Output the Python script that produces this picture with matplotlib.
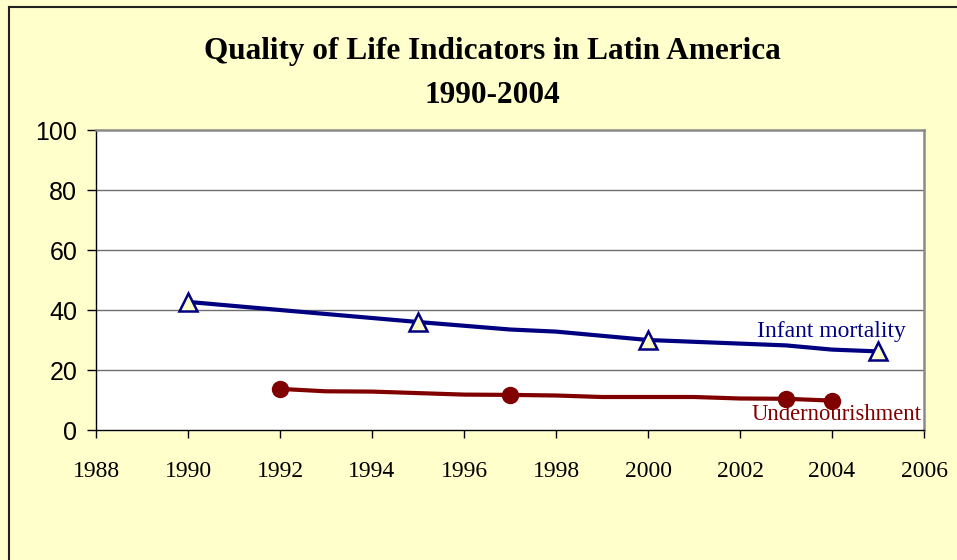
import matplotlib
matplotlib.use("Agg")
import matplotlib.pyplot as plt
from matplotlib.lines import Line2D

# Data
im_years = [1990, 1992, 1995, 1997, 1998, 2000, 2003, 2004, 2005]
im_values = [42.7, 40.0, 36.0, 33.5, 32.8, 30.0, 28.2, 26.8, 26.2]
im_marker_years = [1990, 1995, 2000, 2005]

un_years = [1992, 1993, 1994, 1995, 1996, 1997, 1998, 1999, 2000, 2001, 2002, 2003, 2004]
un_values = [13.7, 12.9, 12.8, 12.3, 11.8, 11.7, 11.5, 11.0, 11.0, 11.0, 10.5, 10.4, 9.8]
un_marker_years = [1992, 1997, 2003, 2004]

x_ticks = [1988, 1990, 1992, 1994, 1996, 1998, 2000, 2002, 2004, 2006]
y_ticks = [0, 20, 40, 60, 80, 100]

title_line1 = "Quality of Life Indicators in Latin America"
title_line2 = "1990-2004"

BG = "#FFFFCC"
NAVY = "#000080"
DRED = "#800000"

fig = plt.figure(figsize=(9.57, 5.6), dpi=100, facecolor=BG)
W, H = 957, 560
ax = fig.add_axes([96 / W, 1 - 430 / H, (924 - 96) / W, 300 / H])
ax.set_facecolor("white")

ax.set_xlim(1988, 2006)
ax.set_ylim(0, 100)
ax.set_xticks(x_ticks)
ax.set_yticks(y_ticks)
ax.set_xticklabels([str(t) for t in x_ticks], family="Liberation Serif", fontsize=17)
ax.set_yticklabels([str(t) for t in y_ticks], family="Liberation Sans", fontsize=18)
ax.tick_params(axis="x", direction="out", length=6, width=1, color="black", pad=16)
ax.tick_params(axis="y", direction="out", length=6.5, width=1, color="black", pad=7)

for y in y_ticks[1:-1]:
    ax.axhline(y, color="#6e6e6e", lw=1.0, zorder=1)

ax.spines["left"].set_color("black")
ax.spines["bottom"].set_color("black")
ax.spines["top"].set_color("#8a8a8a")
ax.spines["right"].set_color("#8a8a8a")
for s in ["top", "right"]:
    ax.spines[s].set_linewidth(1.8)
ax.spines["left"].set_linewidth(1.0)
ax.spines["bottom"].set_linewidth(1.0)

im_idx = [im_years.index(y) for y in im_marker_years]
un_idx = [un_years.index(y) for y in un_marker_years]

ax.plot(im_years, im_values, color=NAVY, lw=3.0, marker="^", markersize=13,
        markerfacecolor=BG, markeredgecolor=NAVY, markeredgewidth=1.8,
        markevery=im_idx, zorder=3, clip_on=False)
ax.plot(un_years, un_values, color=DRED, lw=3.0, marker="o", markersize=11.5,
        markerfacecolor=DRED, markeredgecolor=DRED,
        markevery=un_idx, zorder=3, clip_on=False)

ax.text(2005.6, 33.0, "Infant mortality", color=NAVY, family="Liberation Serif",
        fontsize=17, ha="right", va="center")
ax.text(2005.95, 5.0, "Undernourishment", color=DRED, family="Liberation Serif",
        fontsize=16.3, ha="right", va="center")

fig.text(492 / W, 1 - 52 / H, title_line1, family="Liberation Serif", fontweight="bold",
         fontsize=22.5, ha="center", va="center")
fig.text(492 / W, 1 - 95 / H, title_line2, family="Liberation Serif", fontweight="bold",
         fontsize=22.5, ha="center", va="center")

# chart frame (left and top edges)
fig.add_artist(Line2D([8.5 / W, 8.5 / W], [0, 1 - 7 / H], transform=fig.transFigure,
                      color="#222222", lw=1.5))
fig.add_artist(Line2D([8.5 / W, 1], [1 - 7 / H, 1 - 7 / H], transform=fig.transFigure,
                      color="#222222", lw=1.5))

fig.savefig("out.png", dpi=100, facecolor=BG)
